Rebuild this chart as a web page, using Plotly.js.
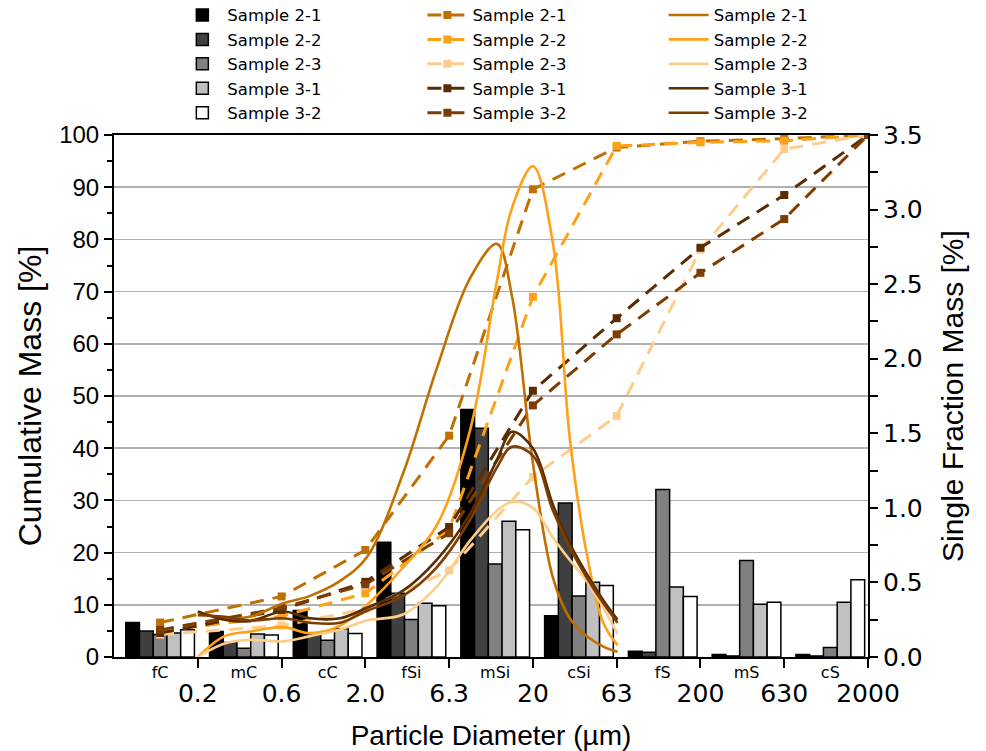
<!DOCTYPE html>
<html>
<head>
<meta charset="utf-8">
<script src="https://cdn.plot.ly/plotly-3.0.1.min.js"></script>
<style>html,body{margin:0;padding:0;background:#fff;}#chart{width:986px;height:751px;}</style>
</head>
<body>
<div id="chart"></div>
<script>
// ---- data ----
const classes = ['fC', 'mC', 'cC', 'fSi', 'mSi', 'cSi', 'fS', 'mS', 'cS'];
const boundaryPos = [1, 2, 3, 4, 5, 6, 7, 8, 9];
const boundaryLabels = ['0.2', '0.6', '2.0', '6.3', '20', '63', '200', '630', '2000'];
const samples = ['Sample 2-1', 'Sample 2-2', 'Sample 2-3', 'Sample 3-1', 'Sample 3-2'];

// single fraction bars (left axis, %)
const bar21 = [6.6, 4.9, 8.9, 22.0, 47.4, 7.9, 1.1, 0.5, 0.5];
const bar22 = [5.0, 2.8, 4.4, 12.2, 43.8, 29.5, 0.9, 0.2, 0.2];
const bar23 = [4.3, 1.7, 3.2, 7.2, 17.8, 11.7, 32.1, 18.5, 1.8];
const bar31 = [4.6, 4.4, 5.4, 10.3, 26.0, 14.3, 13.4, 10.1, 10.5];
const bar32 = [5.2, 4.2, 4.5, 9.8, 24.4, 13.7, 11.6, 10.5, 14.8];

// cumulative curves (left axis, %)
const cumX = [0.55, 2, 3, 4, 5, 6, 7, 8, 9];
const cum21 = [6.6, 11.6, 20.5, 42.4, 89.6, 97.6, 98.8, 99.3, 100];
const cum22 = [5.0, 7.8, 12.2, 24.4, 69.0, 97.9, 98.6, 98.9, 100];
const cum23 = [4.3, 6.0, 9.2, 16.6, 34.5, 46.2, 78.0, 97.3, 100];
const cum31 = [4.6, 9.0, 14.4, 24.9, 51.0, 64.9, 78.4, 88.5, 100];
const cum32 = [5.2, 9.4, 13.9, 23.7, 48.2, 61.8, 73.6, 83.9, 100];

// single fraction distribution curves (right axis, %)
const curveX = [1.0, 1.32, 1.62, 2.02, 2.34, 2.70, 3.02, 3.45, 3.85, 4.25, 4.57, 4.75, 5.0, 5.24, 5.44, 5.64, 5.84, 6.01];
const den21 = [0.30, 0.26, 0.27, 0.36, 0.41, 0.51, 0.67, 1.23, 1.93, 2.54, 2.77, 2.42, 1.30, 0.53, 0.26, 0.14, 0.07, 0.035];
const den22 = [0.0, 0.14, 0.17, 0.20, 0.16, 0.21, 0.35, 0.60, 0.88, 1.52, 2.52, 3.01, 3.29, 2.77, 1.47, 0.70, 0.23, 0.08];
const den23 = [0.0, 0.09, 0.115, 0.105, 0.14, 0.185, 0.245, 0.285, 0.47, 0.78, 0.98, 1.04, 1.0, 0.80, 0.65, 0.51, 0.33, 0.155];
const den31 = [0.305, 0.25, 0.24, 0.305, 0.26, 0.26, 0.33, 0.445, 0.65, 0.96, 1.32, 1.51, 1.40, 1.02, 0.76, 0.56, 0.38, 0.25];
const den32 = [0.28, 0.27, 0.245, 0.26, 0.23, 0.23, 0.31, 0.41, 0.60, 0.92, 1.27, 1.41, 1.35, 0.98, 0.735, 0.535, 0.36, 0.23];

// ---- styling ----
const barFill = ['#000000', '#404040', '#808080', '#c0c0c0', '#ffffff'];
const lineCol = ['#C06F00', '#FFA116', '#FFCD8A', '#5A2C00', '#7E3D00'];
const bars = [bar21, bar22, bar23, bar31, bar32];
const cums = [cum21, cum22, cum23, cum31, cum32];
const dens = [den21, den22, den23, den31, den32];

const traces = [];
bars.forEach((v, i) => traces.push({
  type: 'bar', x: classes, y: v, name: samples[i], xaxis: 'x', yaxis: 'y', legend: 'legend',
  marker: {color: barFill[i], line: {color: '#000', width: 1.5}}
}));
cums.forEach((v, i) => traces.push({
  type: 'scatter', mode: 'lines+markers', x: cumX, y: v, name: samples[i], xaxis: 'x2', yaxis: 'y', legend: 'legend2',
  line: {color: lineCol[i], width: 3, dash: '14px,9px'}, marker: {symbol: 'square', size: 8, color: lineCol[i]}
}));
dens.forEach((v, i) => traces.push({
  type: 'scatter', mode: 'lines', x: curveX, y: v, name: samples[i], xaxis: 'x2', yaxis: 'y2', legend: 'legend3',
  line: {color: lineCol[i], width: 2.6, shape: 'spline', smoothing: 1}
}));

const legFont = {family: 'DejaVu Sans', size: 16.5, color: '#000'};
const legBase = {xanchor: 'left', yanchor: 'top', y: 1.263, font: legFont, bgcolor: 'rgba(0,0,0,0)', tracegroupgap: 0, itemwidth: 40};

const layout = {
  width: 986, height: 751,
  margin: {l: 114, r: 118, t: 135, b: 94, autoexpand: false},
  paper_bgcolor: '#fff', plot_bgcolor: '#fff',
  barmode: 'group', bargap: 0.18, bargroupgap: 0,
  xaxis: {
    type: 'category', range: [-0.55, 8.45], showline: true, linecolor: '#000', linewidth: 2, mirror: true,
    ticks: '', showgrid: false, zeroline: false,
    tickfont: {family: 'DejaVu Sans', size: 16, color: '#000'}
  },
  xaxis2: {
    overlaying: 'x', anchor: 'y', side: 'bottom', range: [0, 9], type: 'linear',
    tickvals: boundaryPos, ticktext: boundaryLabels,
    ticks: 'outside', ticklen: 10, tickwidth: 2, tickcolor: '#000',
    showline: false, showgrid: false, zeroline: false, ticklabelstandoff: 4,
    tickfont: {family: 'DejaVu Sans', size: 25, color: '#000'},
    title: {text: 'Particle Diameter (µm)', font: {family: 'Liberation Sans', size: 28, color: '#000'}, standoff: 20}
  },
  yaxis: {
    range: [0, 100], dtick: 10, showline: true, linecolor: '#000', linewidth: 2,
    ticks: 'outside', ticklen: 8, tickwidth: 2, tickcolor: '#000',
    minor: {dtick: 5, ticks: 'outside', ticklen: 5, tickwidth: 2, tickcolor: '#000', showgrid: false},
    showgrid: true, gridcolor: '#b0b0b0', gridwidth: 1.5, zeroline: false,
    tickfont: {family: 'Liberation Sans', size: 24, color: '#000'},
    title: {text: 'Cumulative Mass [%]', font: {family: 'Liberation Sans', size: 32, color: '#000'}, standoff: 8}
  },
  yaxis2: {
    overlaying: 'y', side: 'right', anchor: 'x', range: [0, 3.5], dtick: 0.5, tickformat: '.1f',
    showline: true, linecolor: '#000', linewidth: 2,
    ticks: 'outside', ticklen: 8, tickwidth: 2, tickcolor: '#000',
    minor: {dtick: 0.25, ticks: 'outside', ticklen: 8, tickwidth: 2, tickcolor: '#000', showgrid: false},
    showgrid: false, zeroline: false,
    tickfont: {family: 'DejaVu Sans', size: 25, color: '#000'},
    title: {text: 'Single Fraction Mass [%]', font: {family: 'Liberation Sans', size: 30, color: '#000'}, standoff: 20}
  },
  legend: Object.assign({}, legBase, {x: 0.084}),
  legend2: Object.assign({}, legBase, {x: 0.409}),
  legend3: Object.assign({}, legBase, {x: 0.729}),
  showlegend: true
};

Plotly.newPlot('chart', traces, layout, {displayModeBar: false, staticPlot: true});
</script>
</body>
</html>
